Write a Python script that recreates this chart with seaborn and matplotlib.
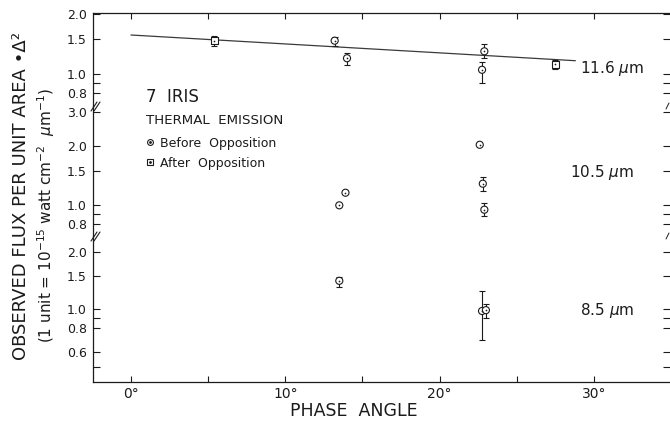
import matplotlib
matplotlib.use("Agg")
import numpy as np
import pandas as pd
import matplotlib.pyplot as plt
from matplotlib.lines import Line2D
import seaborn as sns

# ---- measurements: 7 Iris thermal emission, flux per unit area * Delta^2 ----
# 11.6 micron band
phase_116 = [5.4, 13.2, 14.0, 22.9, 22.75, 27.5]
flux_116 = [1.47, 1.47, 1.20, 1.30, 1.05, 1.12]
low_116 = [1.39, 1.39, 1.11, 1.20, 0.90, 1.06]
high_116 = [1.55, 1.54, 1.27, 1.41, 1.15, 1.18]
epoch_116 = ["After", "Before", "Before", "Before", "Before", "After"]

# 10.5 micron band
phase_105 = [13.9, 13.5, 22.6, 22.8, 22.9]
flux_105 = [1.16, 1.00, 2.04, 1.29, 0.95]
low_105 = [1.16, 1.00, 2.04, 1.19, 0.88]
high_105 = [1.16, 1.00, 2.04, 1.39, 1.03]
epoch_105 = ["Before", "Before", "Before", "Before", "Before"]

# 8.5 micron band
phase_85 = [13.5, 22.75, 23.0]
flux_85 = [1.41, 0.98, 0.99]
low_85 = [1.31, 0.69, 0.90]
high_85 = [1.48, 1.25, 1.07]
epoch_85 = ["Before", "Before", "Before"]

# phase trend through the 11.6 micron points
trend_phase = [0.0, 28.8]
trend_flux = [1.57, 1.166]

band_names = ["11.6", "10.5", "8.5"]
y_major = [[0.8, 1.0, 1.5, 2.0],
           [0.8, 1.0, 1.5, 2.0, 3.0],
           [0.6, 0.8, 1.0, 1.5, 2.0]]
y_minor = [[0.9], [0.9], [0.5, 0.9]]
x_major = [0, 10, 20, 30]
x_minor = [5, 15, 25]

# ---- assemble tidy frames ----
def band_frame(phase, flux, low, high, epoch):
    return pd.DataFrame({"phase": phase, "flux": flux, "low": low,
                         "high": high, "epoch": epoch})

frames = [band_frame(phase_116, flux_116, low_116, high_116, epoch_116),
          band_frame(phase_105, flux_105, low_105, high_105, epoch_105),
          band_frame(phase_85, flux_85, low_85, high_85, epoch_85)]

# ---- styling ----
sns.set_theme(style="ticks")
plt.rcParams["font.family"] = ["DejaVu Sans"]
ink = "#1b1b1b"
plt.rcParams.update({"axes.edgecolor": ink, "xtick.color": ink,
                     "ytick.color": ink, "text.color": ink,
                     "axes.linewidth": 0.9})

W, H = 670, 424
fig = plt.figure(figsize=(W / 100, H / 100), dpi=100)
fig.patch.set_facecolor("white")


def fx(x):
    return x / W


def fy(y):
    return 1 - y / H


# panel layout (pixels): left spine, right edge, stacked log panels
x_left, x_right = 93, 670
edges = [13, 106, 236, 381.7]
y_limits = [(0.6906, 2.025), (0.697, 3.22), (0.418, 2.42)]
xlim = (-2.46, 34.93)

axes = []
for i in range(3):
    top, bot = edges[i], edges[i + 1]
    ax = fig.add_axes([fx(x_left), fy(bot), (x_right - x_left) / W, (bot - top) / H])
    ax.set_facecolor("none")
    ax.set_yscale("log")
    ax.set_xlim(*xlim)
    ax.set_ylim(*y_limits[i])
    axes.append(ax)

marker_map = {"Before": "o", "After": "s"}

for i, (ax, df) in enumerate(zip(axes, frames)):
    # error bars only where an interval was measured
    bars = df[df["high"] > df["low"]]
    if len(bars):
        ax.errorbar(bars["phase"], bars["flux"],
                    yerr=[bars["flux"] - bars["low"], bars["high"] - bars["flux"]],
                    fmt="none", ecolor=ink, elinewidth=0.8, capsize=2.0,
                    capthick=0.8, zorder=2)
    sns.scatterplot(data=df, x="phase", y="flux", style="epoch",
                    markers=marker_map, color="white", edgecolor=ink,
                    linewidth=0.8, s=26, legend=False, zorder=3, ax=ax)
    sns.scatterplot(data=df, x="phase", y="flux", color=ink, s=1.5,
                    linewidth=0, legend=False, zorder=4, ax=ax)

    ax.set_xlabel("")
    ax.set_ylabel("")
    ax.set_yticks(y_major[i])
    ax.set_yticklabels([f"{v:.1f}" for v in y_major[i]])
    ax.set_yticks(y_minor[i], minor=True)
    ax.yaxis.set_minor_formatter(plt.NullFormatter())
    ax.tick_params(axis="y", which="both", direction="in", length=5,
                   width=0.8, left=True, right=True, labelsize=9, pad=4.3)

    ax.set_xticks(x_major)
    ax.set_xticks(x_minor, minor=True)
    ax.set_xticklabels([f"{v}°" for v in x_major])
    ax.spines["right"].set_visible(False)
    if i > 0:
        ax.spines["top"].set_visible(False)
    if i < 2:
        ax.spines["bottom"].set_visible(False)
    ax.tick_params(axis="x", which="both", direction="in", length=4,
                   width=0.8, top=(i == 0), bottom=(i == 2),
                   labelbottom=(i == 2), labeltop=False, labelsize=10, pad=3.6)
    ax.set_xlim(*xlim)

# trend line on the 11.6 micron panel
sns.lineplot(x=trend_phase, y=trend_flux, color="#3a3a3a", linewidth=0.9,
             zorder=1, ax=axes[0])
axes[0].set_xlim(*xlim)

# axis-break marks on both sides
for yb in (edges[1], edges[2]):
    for dx in (0, 3):
        fig.add_artist(Line2D([fx(91 + dx), fx(97 + dx)], [fy(yb + 5), fy(yb - 4)],
                              color=ink, lw=0.8))
    fig.add_artist(Line2D([fx(666), fx(669)], [fy(yb + 3), fy(yb - 3)],
                          color=ink, lw=0.7))

# band labels
band_pos = [(580, 72.5), (570, 177), (580, 315.5)]
for name, (bx, by) in zip(band_names, band_pos):
    fig.text(fx(bx), fy(by), name + r" $\mu$m", fontsize=11,
             ha="left", va="baseline")

# title block and key
fig.text(fx(146), fy(102), "7  IRIS", fontsize=12, ha="left", va="baseline")
fig.text(fx(146), fy(124), "THERMAL  EMISSION", fontsize=9.6,
         ha="left", va="baseline")
fig.text(fx(160), fy(147), "Before  Opposition", fontsize=9,
         ha="left", va="baseline")
fig.text(fx(160), fy(166.5), "After  Opposition", fontsize=9,
         ha="left", va="baseline")
for my, mk in ((142.3, "o"), (161.7, "s")):
    fig.add_artist(Line2D([fx(150)], [fy(my)], marker=mk, markersize=4.2,
                          markerfacecolor="white", markeredgecolor=ink,
                          markeredgewidth=0.8, linestyle="none"))
    fig.add_artist(Line2D([fx(150)], [fy(my)], marker="o", markersize=1.0,
                          color=ink, linestyle="none"))

# axis titles
fig.text(fx(21), fy(195.5), "OBSERVED FLUX PER UNIT AREA •Δ²", rotation=90,
         fontsize=13, ha="center", va="center")
fig.text(fx(46), fy(215), r"(1 unit = 10$^{-15}$ watt cm$^{-2}$  $\mu$m$^{-1}$)",
         rotation=90, fontsize=11, ha="center", va="center")
fig.text(fx(354), fy(416), "PHASE  ANGLE", fontsize=12.5,
         ha="center", va="baseline")

fig.savefig("out.png", dpi=100, facecolor="white")
